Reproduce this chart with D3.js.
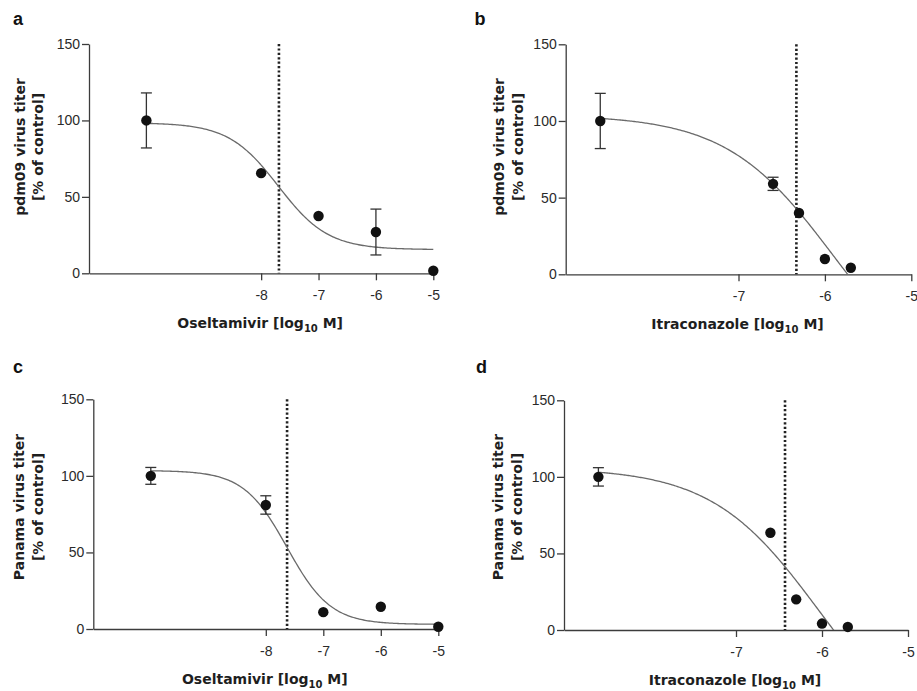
<!DOCTYPE html>
<html>
<head>
<meta charset="utf-8">
<script src="https://cdn.jsdelivr.net/npm/d3@7"></script>
<style>
  html, body { margin: 0; padding: 0; background: #fff; }
  svg { display: block; }
</style>
</head>
<body>
<svg id="chart" width="917" height="691"></svg>
<script>
// ---------- DATA ----------
const panelLetters = ["a", "b", "c", "d"];
const yTitles1 = ["pdm09 virus titer", "pdm09 virus titer", "Panama virus titer", "Panama virus titer"];
const yTitle2 = "[% of control]";
const drugs = ["Oseltamivir", "Itraconazole", "Oseltamivir", "Itraconazole"];
const yTicks = [0, 50, 100, 150];
const xTicksOseltamivir = [-8, -7, -6, -5];
const xTicksItraconazole = [-7, -6, -5];

// log10 M concentrations (first point = untreated control)
const xOseltamivir = [-10, -8, -7, -6, -5];
const xItraconazole = [-8.6, -6.6, -6.3, -6, -5.7];

// titers (% of control) and error (±)
const yA = [100, 65.5, 37.5, 27, 1.7];
const errA = [18, 0, 0, 15, 0];
const yB = [100, 59, 40, 10, 4.3];
const errB = [18, 4.3, 0, 0, 0];
const yC = [100, 81, 11, 14.5, 1.5];
const errC = [5.5, 6, 0, 0, 0];
const yD = [100, 63.5, 20, 4.2, 2];
const errD = [6, 0, 0, 0, 0];

// fitted dose-response parameters: [top, bottom, logIC50, hill]
const fitA = [98.5, 15.5, -7.7, 1.0];
const fitB = [104, -80, -5.9, 0.7];
const fitC = [103.5, 3, -7.63, 1.15];
const fitD = [106, -80, -6.04, 0.7];

// dotted reference lines (log10 M)
const refLines = [-7.69, -6.33, -7.63, -6.43];

// ---------- LAYOUT ----------
const layouts = [
  {left: 89,    right: 433.3, top: 44,    bottom: 273.3, xDomain: [-11, -5], ticks: xTicksOseltamivir,
   letter: [13, 25], t1: 24.5, t2: 42.5, tMid: 147},
  {left: 565.7, right: 911.3, top: 44.3,  bottom: 274.3, xDomain: [-9, -5], ticks: xTicksItraconazole,
   letter: [474.5, 25], t1: 504, t2: 522.5, tMid: 147},
  {left: 93.3,  right: 438.3, top: 399.3, bottom: 629,   xDomain: [-11, -5], ticks: xTicksOseltamivir,
   letter: [13, 373], t1: 23.5, t2: 42.5, tMid: 507},
  {left: 564,   right: 908,   top: 400.3, bottom: 630,   xDomain: [-9, -5], ticks: xTicksItraconazole,
   letter: [476, 373], t1: 503, t2: 521.5, tMid: 507}
];

const panels = [
  {x: xOseltamivir, y: yA, err: errA, fit: fitA},
  {x: xItraconazole, y: yB, err: errB, fit: fitB},
  {x: xOseltamivir, y: yC, err: errC, fit: fitC},
  {x: xItraconazole, y: yD, err: errD, fit: fitD}
];

const svg = d3.select("#chart");
const axisColor = "#3c3c3c";
const tickFont = "'Liberation Sans', Arial, sans-serif";
const titleFont = "'DejaVu Sans', Verdana, sans-serif";

function logistic(fit, x) {
  const [top, bottom, c, h] = fit;
  return bottom + (top - bottom) / (1 + Math.pow(10, (x - c) * h));
}

panels.forEach((p, i) => {
  const L = layouts[i];
  const xs = d3.scaleLinear().domain(L.xDomain).range([L.left, L.right]);
  const ys = d3.scaleLinear().domain([0, 150]).range([L.bottom, L.top]);
  const g = svg.append("g");

  // panel letter
  svg.append("text")
    .attr("x", L.letter[0]).attr("y", L.letter[1])
    .attr("font-family", tickFont).attr("font-weight", "bold").attr("font-size", 18)
    .attr("fill", "#111").text(panelLetters[i]);

  // y axis
  const yAxis = g.append("g").attr("transform", `translate(${L.left},0)`)
    .call(d3.axisLeft(ys).tickValues(yTicks).tickSize(7).tickPadding(2).tickSizeOuter(0));
  // x axis
  const xAxis = g.append("g").attr("transform", `translate(0,${L.bottom})`)
    .call(d3.axisBottom(xs).tickValues(L.ticks).tickSize(7).tickPadding(10).tickSizeOuter(0)
      .tickFormat(d => "-" + Math.abs(d)));
  [yAxis, xAxis].forEach(ax => {
    ax.select(".domain").attr("stroke", axisColor).attr("stroke-width", 1.3);
    ax.selectAll(".tick line").attr("stroke", axisColor).attr("stroke-width", 1.3);
    ax.selectAll(".tick text").attr("fill", "#2a2a2a").attr("font-family", tickFont).attr("font-size", 14);
  });

  // y title
  const yt = g.append("g").attr("font-family", titleFont).attr("font-weight", "bold")
    .attr("font-size", 14).attr("fill", "#1e1e1e").attr("text-anchor", "middle");
  yt.append("text").attr("transform", `translate(${L.t1},${L.tMid}) rotate(-90)`).text(yTitles1[i]);
  yt.append("text").attr("transform", `translate(${L.t2},${L.tMid}) rotate(-90)`).text(yTitle2);

  // x title
  const xt = g.append("text")
    .attr("x", (L.left + L.right) / 2 - 1).attr("y", L.bottom + 55)
    .attr("font-family", titleFont).attr("font-weight", "bold").attr("font-size", 14)
    .attr("fill", "#1e1e1e").attr("text-anchor", "middle");
  xt.append("tspan").text(drugs[i] + " [log");
  xt.append("tspan").attr("font-size", 10).attr("dy", 4).text("10");
  xt.append("tspan").attr("dy", -4).text(" M]");

  // dotted reference line
  g.append("line")
    .attr("x1", xs(refLines[i])).attr("x2", xs(refLines[i]))
    .attr("y1", ys(150)).attr("y2", ys(0))
    .attr("stroke", "#222").attr("stroke-width", 2.6)
    .attr("stroke-dasharray", "2.2,2.2");

  // fitted curve (clipped to plot area)
  const clipId = "clip" + i;
  svg.append("clipPath").attr("id", clipId).append("rect")
    .attr("x", L.left).attr("y", L.top - 10)
    .attr("width", L.right - L.left + 10).attr("height", L.bottom - L.top + 10);
  const x0 = p.x[0], x1 = p.x[p.x.length - 1];
  const samples = d3.range(0, 201).map(k => x0 + (x1 - x0) * k / 200);
  const line = d3.line().x(d => xs(d)).y(d => ys(logistic(p.fit, d))).curve(d3.curveLinear);
  g.append("path").datum(samples)
    .attr("d", line).attr("fill", "none")
    .attr("stroke", "#6a6a6a").attr("stroke-width", 1.3)
    .attr("clip-path", `url(#${clipId})`);

  // error bars
  const cap = 5.5;
  p.x.forEach((xv, k) => {
    const e = p.err[k];
    if (e > 0) {
      const cx = xs(xv), yTop = ys(p.y[k] + e), yBot = ys(p.y[k] - e);
      g.append("line").attr("x1", cx).attr("x2", cx).attr("y1", yTop).attr("y2", yBot)
        .attr("stroke", "#333").attr("stroke-width", 1.3);
      [yTop, yBot].forEach(yy => g.append("line")
        .attr("x1", cx - cap).attr("x2", cx + cap).attr("y1", yy).attr("y2", yy)
        .attr("stroke", "#333").attr("stroke-width", 1.3));
    }
  });

  // points
  g.selectAll("circle.pt").data(p.x.map((xv, k) => [xv, p.y[k]])).enter()
    .append("circle").attr("class", "pt")
    .attr("cx", d => xs(d[0])).attr("cy", d => ys(d[1])).attr("r", 5.2)
    .attr("fill", "#111");
});
</script>
</body>
</html>
